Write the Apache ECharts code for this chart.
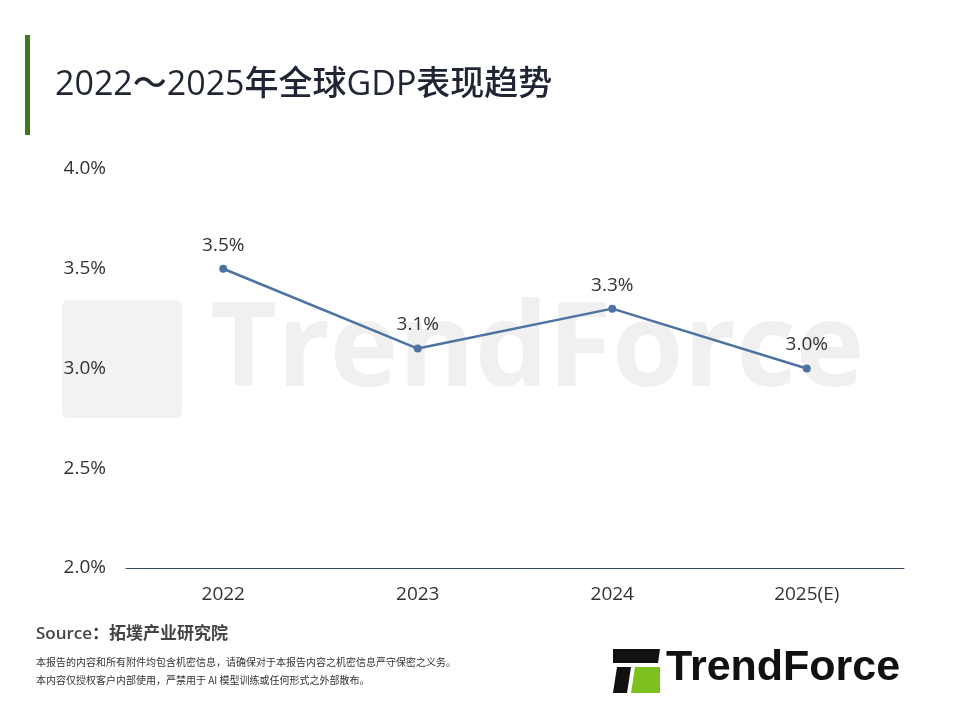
<!DOCTYPE html>
<html><head><meta charset="utf-8">
<script src="https://cdn.jsdelivr.net/npm/echarts@6/dist/echarts.min.js"></script>
<style>html,body{margin:0;padding:0;background:#fff}#c{width:960px;height:720px}</style>
</head><body><div id="c"></div>
<script>
const categories = ['2022','2023','2024','2025(E)'];
const gdpValues = [3.5, 3.1, 3.3, 3.0];
const yTicks = ['2.0%','2.5%','3.0%','3.5%','4.0%'];
const F = '"Open Sans","Noto Sans CJK SC",sans-serif';
const chart = echarts.init(document.getElementById('c'));
chart.setOption({
  backgroundColor:'#fff',
  animation:false,
  grid:{left:126,right:56,top:169,bottom:152},
  xAxis:{type:'category',data:categories,boundaryGap:true,
    axisLine:{lineStyle:{color:'#3b4a63',width:1}},axisTick:{show:false},
    axisLabel:{color:'#333',fontSize:19,fontFamily:F,margin:17}},
  yAxis:{type:'value',min:2,max:4,interval:0.5,splitLine:{show:false},
    axisLine:{show:false},axisTick:{show:false},
    axisLabel:{color:'#333',fontSize:19,fontFamily:F,margin:20,
      formatter:v=>yTicks[Math.round((v-2)/0.5)]}},
  graphic:[
    {type:'rect',left:25,top:35,shape:{width:5,height:100},style:{fill:'#3d7a1e'}},
    {type:'text',left:55,top:68,style:{text:'2022～2025年全球GDP表现趋势',fill:'#1f2533',font:'500 34px '+F}},
    {type:'text',left:210,top:295,z:-1,style:{text:'TrendForce',fill:'rgba(0,0,0,0.06)',font:'bold 116px '+F}},
    {type:'rect',left:62,top:300,z:-1,shape:{width:120,height:118,r:6},style:{fill:'rgba(0,0,0,0.05)'}},
    {type:'text',left:36,top:626,style:{text:'Source：拓墣产业研究院',fill:'#444',font:'600 17px '+F}},
    {type:'text',left:36,top:657,style:{text:'本报告的内容和所有附件均包含机密信息，请确保对于本报告内容之机密信息严守保密之义务。',fill:'#333',font:'10px "Noto Sans CJK SC",sans-serif'}},
    {type:'text',left:36,top:675,style:{text:'本内容仅授权客户内部使用，严禁用于 AI 模型训练或任何形式之外部散布。',fill:'#333',font:'10px "Noto Sans CJK SC",sans-serif'}},
    {type:'polygon',shape:{points:[[613,649],[660,649],[658,663],[613,663]]},style:{fill:'#111'}},
    {type:'polygon',shape:{points:[[617,667],[631,667],[627,693],[613,693]]},style:{fill:'#111'}},
    {type:'polygon',shape:{points:[[635,667],[660,667],[660,693],[631,693]]},style:{fill:'#7dc11e'}},
    {type:'text',left:666,top:647,style:{text:'TrendForce',fill:'#111',font:'bold 43px "Liberation Sans",sans-serif'}}
  ],
  series:[{type:'line',data:gdpValues,symbol:'circle',symbolSize:8,
    lineStyle:{color:'#4c73a2',width:2.5},itemStyle:{color:'#4c73a2'},
    label:{show:true,position:'top',distance:10,color:'#333',fontSize:19,fontFamily:F,formatter:p=>p.value.toFixed(1)+'%'}}]
});
</script></body></html>
